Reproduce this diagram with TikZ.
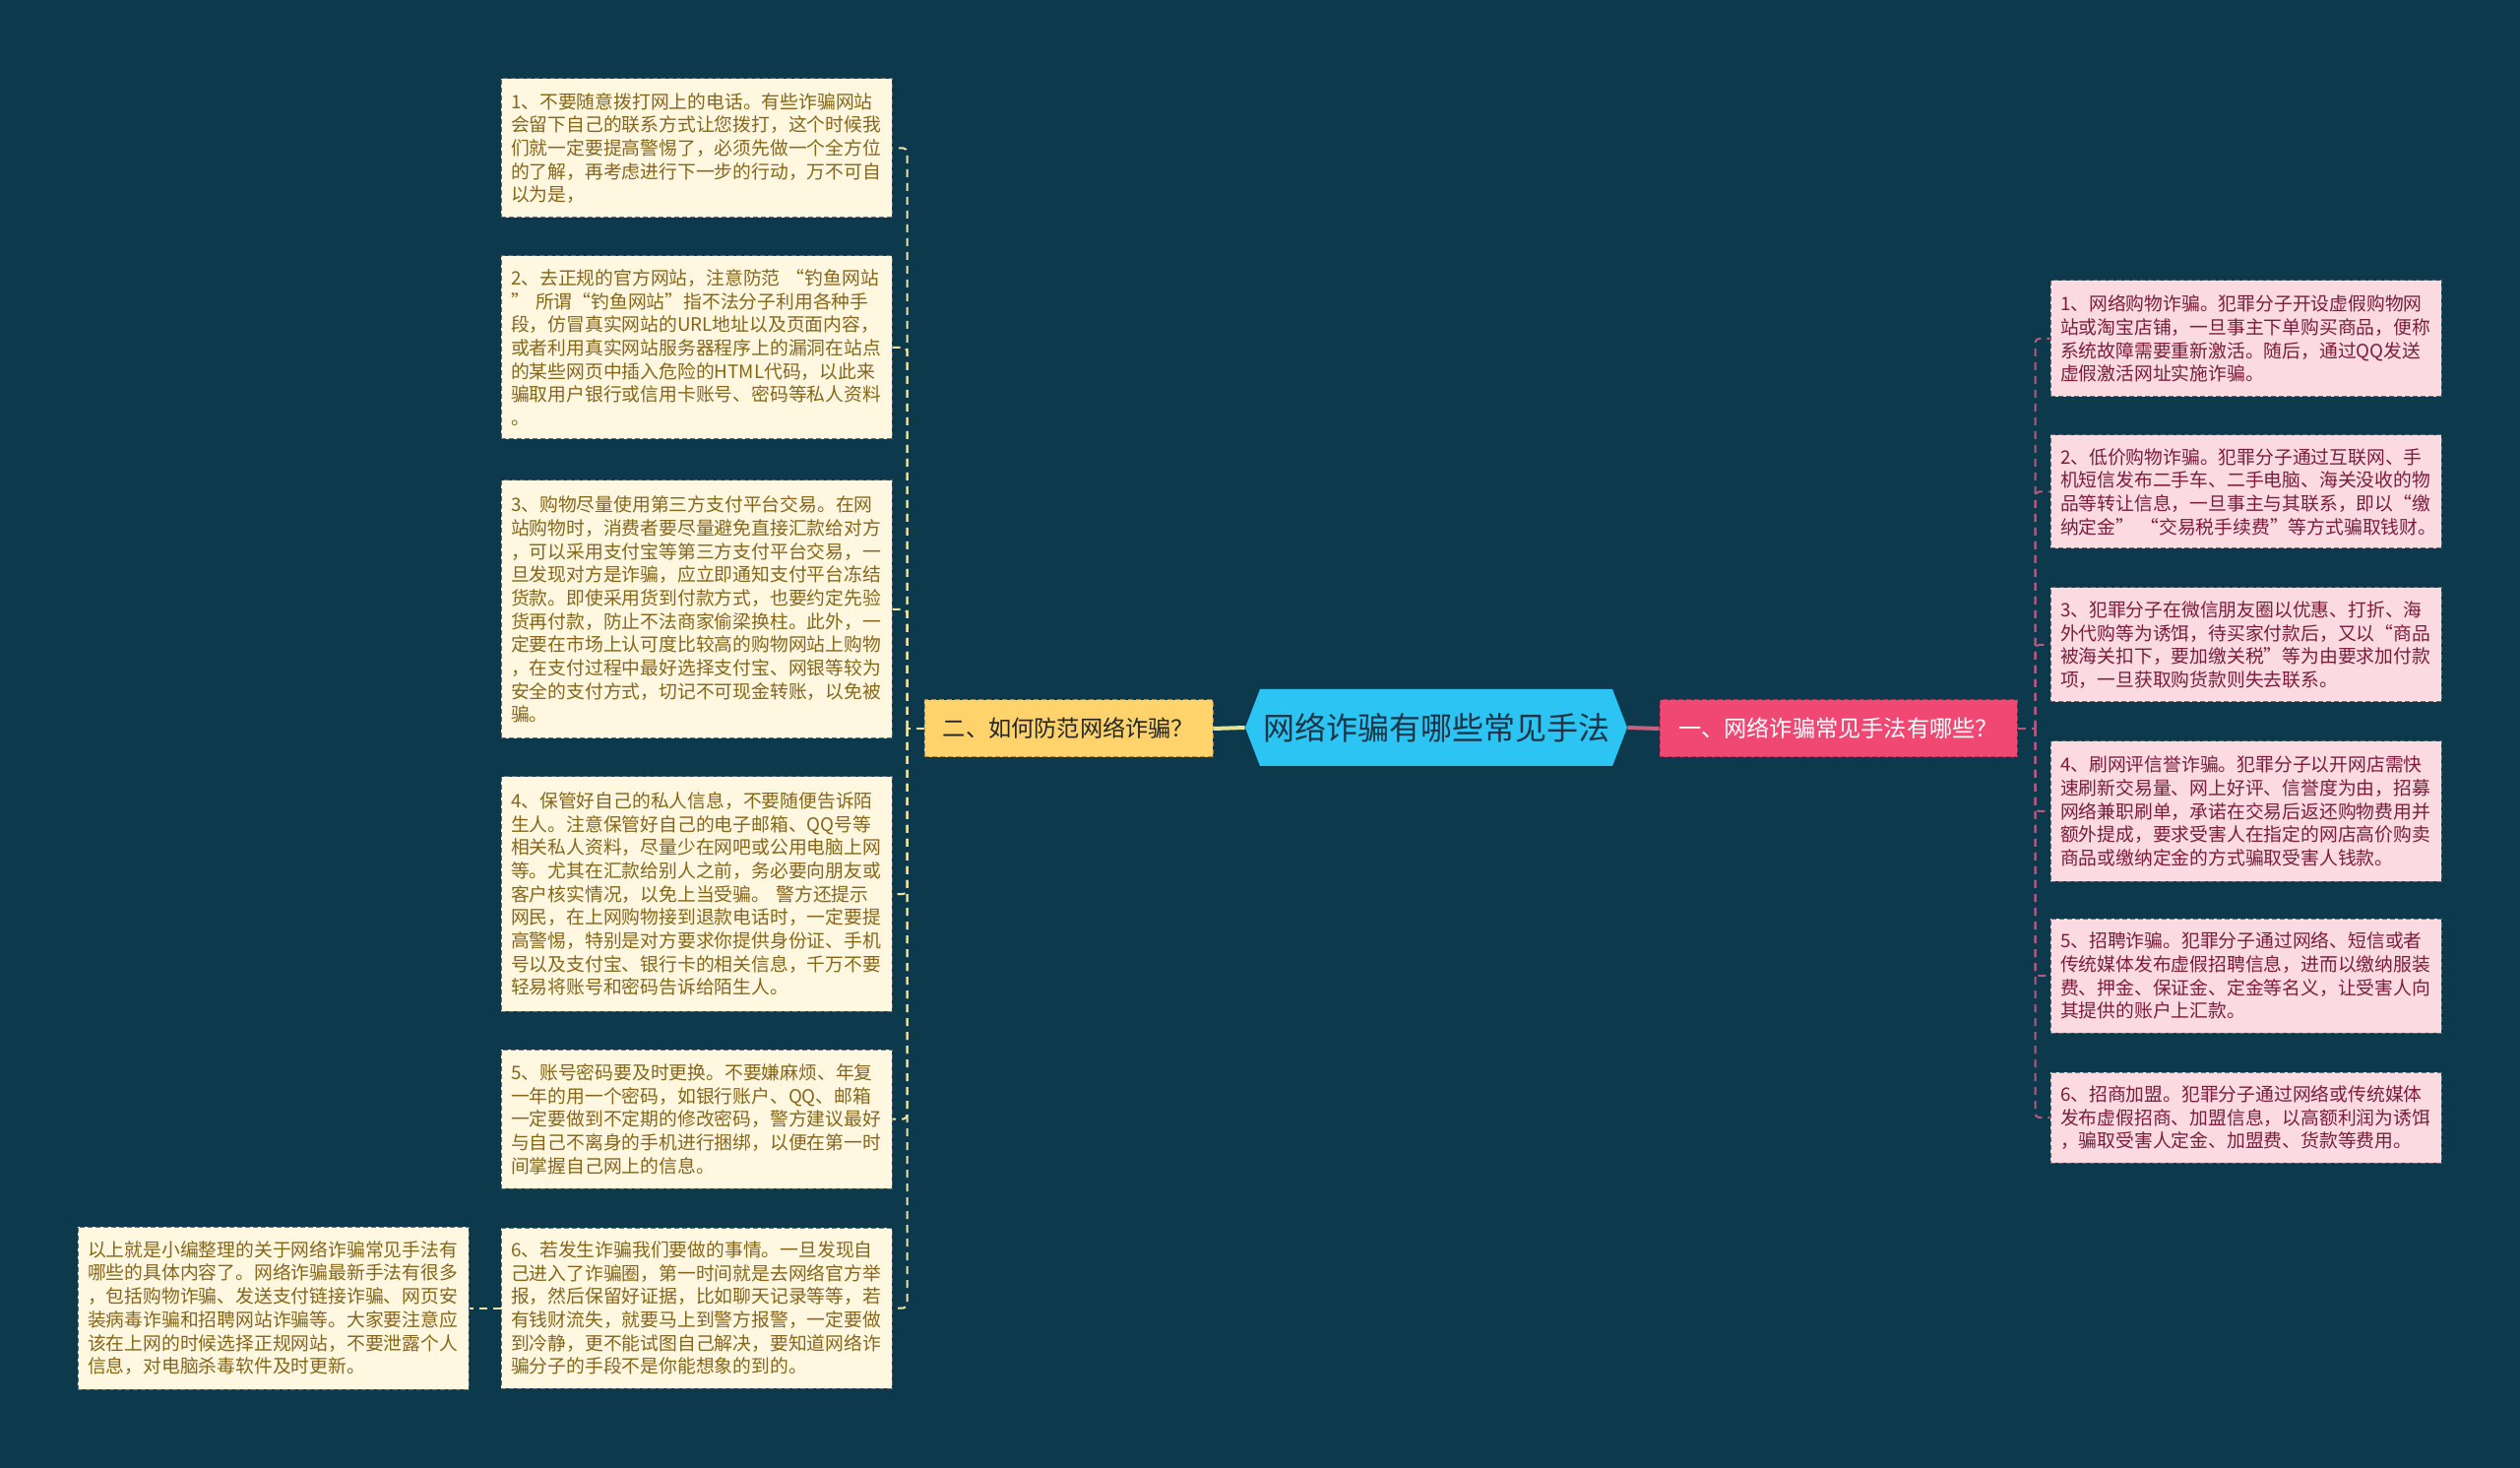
\documentclass[tikz,border=0pt]{standalone}
\usepackage{fontspec}
\setmainfont{Noto Sans CJK SC}
\usetikzlibrary{shapes.symbols}
\definecolor{bg}{HTML}{0C3A4C}
\definecolor{creamfill}{HTML}{FFF7E0}
\definecolor{creamtext}{HTML}{86661A}
\definecolor{pinkfill}{HTML}{FBDAE1}
\definecolor{pinktext}{HTML}{7A1E3C}
\definecolor{leafborder}{HTML}{5E6A70}
\definecolor{yfill}{HTML}{FFD36B}
\definecolor{yborder}{HTML}{A88A3A}
\definecolor{cfill}{HTML}{2CC4F2}
\definecolor{ctext}{HTML}{1C3445}
\definecolor{pfill}{HTML}{EE4873}
\definecolor{pborder}{HTML}{B23458}
\definecolor{lline}{HTML}{EFE3A5}
\definecolor{lsolid}{HTML}{E3E39A}
\definecolor{rline}{HTML}{B65A80}
\definecolor{rsolid}{HTML}{C2637F}
\begin{document}
\begin{tikzpicture}[x=0.5pt,y=-0.5pt,
  leafbase/.style={draw=leafborder, dash pattern=on 2.5pt off 1.5pt, line width=0.5pt,
    align=left, text width=188.5pt, inner xsep=5pt, inner ysep=2pt, anchor=center,
    font=\fontsize{9.4pt}{11.85pt}\selectfont},
  leafL/.style={leafbase, fill=creamfill, text=creamtext},
  leafR/.style={leafbase, fill=pinkfill, text=pinktext},
  ynode/.style={fill=yfill, draw=yborder, dash pattern=on 2.5pt off 1.5pt, line width=0.5pt,
    minimum width=146.5pt, minimum height=29pt, inner sep=0pt, text=black!85,
    font=\fontsize{11.6pt}{14pt}\selectfont},
  pnode/.style={fill=pfill, draw=pborder, dash pattern=on 2.5pt off 1.5pt, line width=0.5pt,
    minimum width=181.5pt, minimum height=29pt, inner sep=0pt, text=white,
    font=\fontsize{11.6pt}{14pt}\selectfont},
  cnode/.style={signal, signal to=west and east, signal pointer angle=138, fill=cfill,
    minimum width=194pt, minimum height=39pt, inner sep=0pt, text=ctext,
    font=\fontsize{16pt}{19pt}\selectfont},
  ltrunk/.style={draw=lline, line width=1pt, dash pattern=on 4pt off 3pt, rounded corners=2pt},
  rtrunk/.style={draw=rline, line width=1pt, dash pattern=on 4pt off 3pt, rounded corners=2pt},
  csolidl/.style={draw=lsolid, line width=2pt},
  csolidr/.style={draw=rsolid, line width=2pt}
]
\useasboundingbox (0,0) rectangle (2560,1491);
\fill[bg] (0,0) rectangle (2560,1491);

% main nodes
\node[cnode] (C) at (1459,739) {网络诈骗有哪些常见手法};
\node[ynode] (Y) at (1085.5,740) {二、如何防范网络诈骗？};
\node[pnode] (P) at (1867.5,740) {一、网络诈骗常见手法有哪些？};

% left leaves
\node[leafL, minimum height=70.5pt] (L1) at (707.5,150.5) {1、不要随意拨打网上的电话。有些诈骗网站\\会留下自己的联系方式让您拨打，这个时候我\\们就一定要提高警惕了，必须先做一个全方位\\的了解，再考虑进行下一步的行动，万不可自\\以为是，};
\node[leafL, minimum height=93pt] (L2) at (707.5,353) {2、去正规的官方网站，注意防范~“钓鱼网站\\”~所谓“钓鱼网站”指不法分子利用各种手\\段，仿冒真实网站的URL地址以及页面内容，\\或者利用真实网站服务器程序上的漏洞在站点\\的某些网页中插入危险的HTML代码，以此来\\骗取用户银行或信用卡账号、密码等私人资料\\。};
\node[leafL, minimum height=131pt] (L3) at (707.5,619) {3、购物尽量使用第三方支付平台交易。在网\\站购物时，消费者要尽量避免直接汇款给对方\\，可以采用支付宝等第三方支付平台交易，一\\旦发现对方是诈骗，应立即通知支付平台冻结\\货款。即使采用货到付款方式，也要约定先验\\货再付款，防止不法商家偷梁换柱。此外，一\\定要在市场上认可度比较高的购物网站上购物\\，在支付过程中最好选择支付宝、网银等较为\\安全的支付方式，切记不可现金转账，以免被\\骗。};
\node[leafL, minimum height=119pt] (L4) at (707.5,908) {4、保管好自己的私人信息，不要随便告诉陌\\生人。注意保管好自己的电子邮箱、QQ号等\\相关私人资料，尽量少在网吧或公用电脑上网\\等。尤其在汇款给别人之前，务必要向朋友或\\客户核实情况，以免上当受骗。~警方还提示\\网民，在上网购物接到退款电话时，一定要提\\高警惕，特别是对方要求你提供身份证、手机\\号以及支付宝、银行卡的相关信息，千万不要\\轻易将账号和密码告诉给陌生人。};
\node[leafL, minimum height=70.5pt] (L5) at (707.5,1136.5) {5、账号密码要及时更换。不要嫌麻烦、年复\\一年的用一个密码，如银行账户、QQ、邮箱\\一定要做到不定期的修改密码，警方建议最好\\与自己不离身的手机进行捆绑，以便在第一时\\间掌握自己网上的信息。};
\node[leafL, minimum height=81.5pt] (L6) at (707.5,1328.5) {6、若发生诈骗我们要做的事情。一旦发现自\\己进入了诈骗圈，第一时间就是去网络官方举\\报，然后保留好证据，比如聊天记录等等，若\\有钱财流失，就要马上到警方报警，一定要做\\到冷静，更不能试图自己解决，要知道网络诈\\骗分子的手段不是你能想象的到的。};
\node[leafL, minimum height=82.5pt] (S) at (277.5,1328.5) {以上就是小编整理的关于网络诈骗常见手法有\\哪些的具体内容了。网络诈骗最新手法有很多\\，包括购物诈骗、发送支付链接诈骗、网页安\\装病毒诈骗和招聘网站诈骗等。大家要注意应\\该在上网的时候选择正规网站，不要泄露个人\\信息，对电脑杀毒软件及时更新。};

% right leaves
\node[leafR, minimum height=59pt] (R1) at (2281.5,344) {1、网络购物诈骗。犯罪分子开设虚假购物网\\站或淘宝店铺，一旦事主下单购买商品，便称\\系统故障需要重新激活。随后，通过QQ发送\\虚假激活网址实施诈骗。};
\node[leafR, minimum height=57.5pt] (R2) at (2281.5,499.5) {2、低价购物诈骗。犯罪分子通过互联网、手\\机短信发布二手车、二手电脑、海关没收的物\\品等转让信息，一旦事主与其联系，即以“缴\\纳定金”~“交易税手续费”等方式骗取钱财。};
\node[leafR, minimum height=58pt] (R3) at (2281.5,655) {3、犯罪分子在微信朋友圈以优惠、打折、海\\外代购等为诱饵，待买家付款后，又以“商品\\被海关扣下，要加缴关税”等为由要求加付款\\项，一旦获取购货款则失去联系。};
\node[leafR, minimum height=71pt] (R4) at (2281.5,824) {4、刷网评信誉诈骗。犯罪分子以开网店需快\\速刷新交易量、网上好评、信誉度为由，招募\\网络兼职刷单，承诺在交易后返还购物费用并\\额外提成，要求受害人在指定的网店高价购卖\\商品或缴纳定金的方式骗取受害人钱款。};
\node[leafR, minimum height=58pt] (R5) at (2281.5,991) {5、招聘诈骗。犯罪分子通过网络、短信或者\\传统媒体发布虚假招聘信息，进而以缴纳服装\\费、押金、保证金、定金等名义，让受害人向\\其提供的账户上汇款。};
\node[leafR, minimum height=46pt] (R6) at (2281.5,1135) {6、招商加盟。犯罪分子通过网络或传统媒体\\发布虚假招商、加盟信息，以高额利润为诱饵\\，骗取受害人定金、加盟费、货款等费用。};

% connectors
\draw[csolidl] (C.west) -- (Y.east);
\draw[csolidr] (C.east) -- (P.west);

\draw[ltrunk] (Y.west) -- ++(-17,0) coordinate (lt);
\foreach \n in {L1,L2,L3,L4,L5,L6}{\draw[ltrunk] (lt) |- (\n.east);}
\draw[ltrunk] (L6.west) -- (S.east);

\draw[rtrunk] (P.east) -- ++(18,0) coordinate (rt);
\foreach \n in {R1,R2,R3,R4,R5,R6}{\draw[rtrunk] (rt) |- (\n.west);}
\end{tikzpicture}
\end{document}
